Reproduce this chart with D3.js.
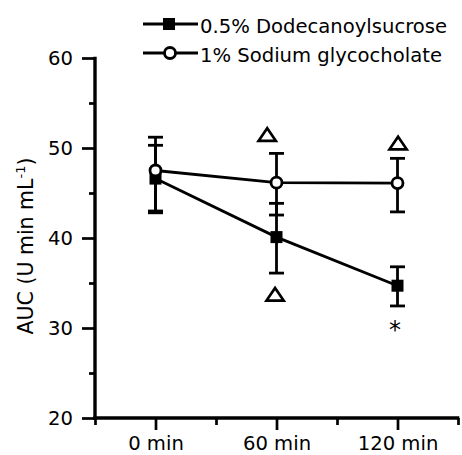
<!DOCTYPE html>
<html><head><meta charset="utf-8">
<script src="https://cdn.jsdelivr.net/npm/d3@7"></script>
<style>body{margin:0;background:#fff}svg{display:block}text{font-family:"DejaVu Sans",sans-serif;fill:#000}</style>
</head><body>
<script>
const times = [0, 60, 120];
const timeLabels = ["0 min", "60 min", "120 min"];
const seriesNames = ["0.5% Dodecanoylsucrose", "1% Sodium glycocholate"];
const dodecMean = [46.6, 40.1, 34.7];
const dodecUpper = [50.3, 43.85, 36.8];
const dodecLower = [42.8, 36.1, 32.45];
const glycoMean = [47.5, 46.15, 46.1];
const glycoUpper = [51.2, 49.4, 48.85];
const glycoLower = [43.0, 42.55, 42.9];
const yTicks = [20, 30, 40, 50, 60];
const yMinorTicks = [25, 35, 45, 55];
const xMinorTicks = [-30, 30, 90, 150];
const triangleMarks = [{t: 55.4, v: 51.5}, {t: 59.3, v: 33.75}, {t: 120.3, v: 50.55}];
const starMarks = [{t: 118.8, v: 30.15, label: "*"}];

const W = 462, H = 455;
const svg = d3.select("body").append("svg").attr("width", W).attr("height", H);
const x = d3.scaleLinear().domain([-30, 150]).range([95, 458]);
const y = d3.scaleLinear().domain([20, 60]).range([418, 58]);
const FS = 19.6;

// y axis
const yAxis = d3.axisLeft(y).tickValues(yTicks).tickSize(13).tickPadding(9).tickFormat(d3.format("d"));
const gy = svg.append("g").attr("transform", "translate(95,0)").call(yAxis);
gy.select(".domain").remove();
gy.selectAll(".tick line").attr("stroke", "#000").attr("stroke-width", 2.7);
gy.selectAll(".tick text").style("font-size", FS + "px");
const yMinor = d3.axisLeft(y).tickValues(yMinorTicks).tickSize(6).tickFormat("");
const gym = svg.append("g").attr("transform", "translate(95,0)").call(yMinor);
gym.select(".domain").remove();
gym.selectAll(".tick line").attr("stroke", "#000").attr("stroke-width", 2.7);

// x axis
const xAxis = d3.axisBottom(x).tickValues(times).tickSize(12).tickPadding(6).tickFormat((d, i) => timeLabels[i]);
const gx = svg.append("g").attr("transform", "translate(0,418)").call(xAxis);
gx.select(".domain").remove();
gx.selectAll(".tick line").attr("stroke", "#000").attr("stroke-width", 2.7);
gx.selectAll(".tick text").style("font-size", FS + "px");
const xMinor = d3.axisBottom(x).tickValues(xMinorTicks).tickSize(7).tickFormat("");
const gxm = svg.append("g").attr("transform", "translate(0,418)").call(xMinor);
gxm.select(".domain").remove();
gxm.selectAll(".tick line").attr("stroke", "#000").attr("stroke-width", 2.7);

// axis lines
svg.append("line").attr("x1", 95).attr("x2", 95).attr("y1", y(60) - 1.3).attr("y2", 419.6).attr("stroke", "#000").attr("stroke-width", 3.4);
svg.append("line").attr("x1", 93.3).attr("x2", 459.3).attr("y1", 418).attr("y2", 418).attr("stroke", "#000").attr("stroke-width", 3.4);

// y label
const yl = svg.append("text").attr("transform", "translate(33,246) rotate(-90)")
  .attr("text-anchor", "middle").style("font-size", "20.5px");
yl.append("tspan").text("AUC (U min mL");
yl.append("tspan").attr("dy", -8).style("font-size", "13px").text("-1");
yl.append("tspan").attr("dy", 8).text(")");

function drawSeries(mean, upper, lower, kind) {
  const g = svg.append("g");
  const pts = times.map((t, i) => ({t, m: mean[i], hi: upper[i], lo: lower[i]}));
  g.append("path").datum(pts).attr("fill", "none").attr("stroke", "#000").attr("stroke-width", 2.8)
    .attr("d", d3.line().x(d => x(d.t)).y(d => y(d.m)));
  const eb = g.selectAll("g.eb").data(pts).join("g");
  eb.append("line").attr("x1", d => x(d.t)).attr("x2", d => x(d.t))
    .attr("y1", d => y(d.hi)).attr("y2", d => y(d.lo)).attr("stroke", "#000").attr("stroke-width", 2.8);
  ["hi", "lo"].forEach(k => {
    eb.append("line").attr("x1", d => x(d.t) - 7.5).attr("x2", d => x(d.t) + 7.5)
      .attr("y1", d => y(d[k])).attr("y2", d => y(d[k])).attr("stroke", "#000").attr("stroke-width", 2.8);
  });
  if (kind === "square") {
    g.selectAll("rect").data(pts).join("rect").attr("x", d => x(d.t) - 6).attr("y", d => y(d.m) - 6)
      .attr("width", 12).attr("height", 12).attr("fill", "#000");
  } else {
    g.selectAll("circle").data(pts).join("circle").attr("cx", d => x(d.t)).attr("cy", d => y(d.m))
      .attr("r", 5.5).attr("fill", "#fff").attr("stroke", "#000").attr("stroke-width", 2.8);
  }
}
drawSeries(dodecMean, dodecUpper, dodecLower, "square");
drawSeries(glycoMean, glycoUpper, glycoLower, "circle");

// annotations
svg.selectAll("path.tri").data(triangleMarks).join("path").attr("class", "tri")
  .attr("d", "M0,-6.3 L8.6,6.3 L-8.6,6.3 Z")
  .attr("transform", d => `translate(${x(d.t)},${y(d.v)})`)
  .attr("fill", "none").attr("stroke", "#000").attr("stroke-width", 2.7).attr("stroke-linejoin", "miter");
svg.selectAll("text.star").data(starMarks).join("text").attr("class", "star")
  .attr("x", d => x(d.t)).attr("y", d => y(d.v) + 11).attr("text-anchor", "middle")
  .style("font-size", "24px").text(d => d.label);

// legend
const leg = svg.append("g");
[0, 1].forEach(i => {
  const ly = 24 + i * 29;
  leg.append("line").attr("x1", 143).attr("x2", 198).attr("y1", ly).attr("y2", ly).attr("stroke", "#000").attr("stroke-width", 2.8);
  if (i === 0) leg.append("rect").attr("x", 163).attr("y", ly - 6).attr("width", 12).attr("height", 12).attr("fill", "#000");
  else leg.append("circle").attr("cx", 170).attr("cy", ly).attr("r", 5.5).attr("fill", "#fff").attr("stroke", "#000").attr("stroke-width", 2.8);
  leg.append("text").attr("x", 200).attr("y", ly + 9).style("font-size", FS + "px").text(seriesNames[i]);
});
</script>
</body></html>
